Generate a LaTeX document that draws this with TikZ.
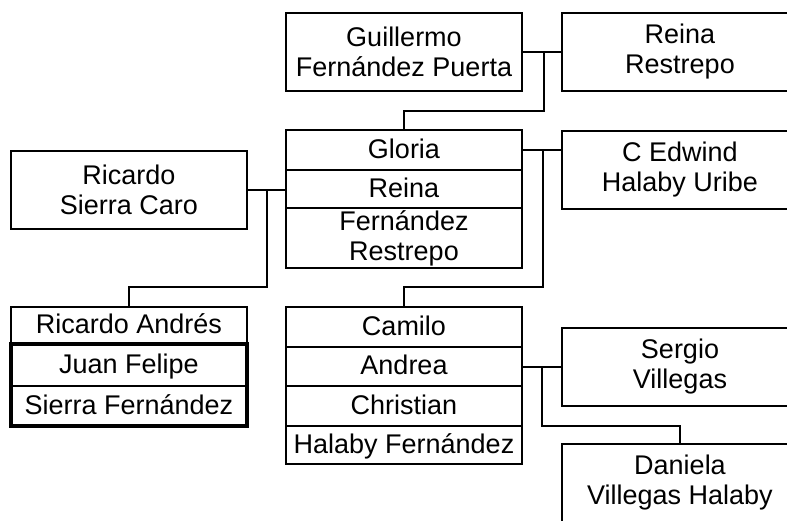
\documentclass[tikz,border=0pt]{standalone}
\usepackage{fontspec}
\setmainfont{Liberation Sans}
\usetikzlibrary{positioning}

\begin{document}
\begin{tikzpicture}[
x=1pt, y=-1pt,
node distance=0pt,
line width=2pt,
person/.style={draw,
rectangle,
minimum width=236pt,
minimum height=78pt,
inner sep=0pt,
outer sep=0pt,
align=center,
font=\fontsize{27}{30}\selectfont},
row/.style={person, minimum height=39pt, text height=19pt, text depth=3pt},
heavy/.style={line width=4pt}
]
\useasboundingbox (0,0) rectangle (787,520);
\clip (0,0) rectangle (787,520);

% grandparents
\node[person] (guillermo) at (404,52) {Guillermo\\Fernández Puerta};
\node[person] (reinaR) at (680,52) {Reina\\Restrepo};

% parents
\node[row, minimum height=40pt] (gloria) at (404,150) {Gloria};
\node[row, below=of gloria, minimum height=38pt] (reinaF) {Reina};
\node[person, below=of reinaF, minimum height=60pt] (fernandezR) {Fernández\\Restrepo};
\node[person] (ricardo) at (129,190) {Ricardo\\Sierra Caro};
\node[person] (edwind) at (680,170) {C Edwind\\Halaby Uribe};

% children
\node[row, minimum height=37pt] (ricardoA) at (129,325.5) {Ricardo Andrés};
\node[row, below=of ricardoA, minimum height=42pt] (juanF) {Juan Felipe};
\node[row, below=of juanF, minimum height=40pt] (sierraF) {Sierra Fernández};
\draw[heavy] (juanF.north west) rectangle (sierraF.south east);

\node[row, minimum height=40pt] (camilo) at (404,327) {Camilo};
\node[row, below=of camilo] (andrea) {Andrea};
\node[row, below=of andrea, minimum height=40pt] (christian) {Christian};
\node[row, below=of christian, minimum height=38pt] (halabyF) {Halaby Fernández};
\node[person] (sergio) at (680,366.5) {Sergio\\Villegas};
\node[person] (daniela) at (680,483) {Daniela\\Villegas Halaby};

% unions and descent lines
\coordinate[right=22pt of guillermo.east] (union1);
\coordinate[right=20pt of ricardo.east] (union2);
\coordinate[right=21pt of gloria.east] (union3);
\coordinate[right=20pt of andrea.east] (union4);

\draw (guillermo.east) -- (reinaR.west);
\draw (union1) -- ++(0,59) -| (gloria.north);
\draw (ricardo.east) -- (ricardo.east -| reinaF.west);
\draw (union2) -- ++(0,97) -| (ricardoA.north);
\draw (gloria.east) -- (gloria.east -| edwind.west);
\draw (union3) -- ++(0,137) -| (camilo.north);
\draw (andrea.east) -- (andrea.east -| sergio.west);
\draw (union4) -- ++(0,59.5) -| (daniela.north);

\end{tikzpicture}
\end{document}
